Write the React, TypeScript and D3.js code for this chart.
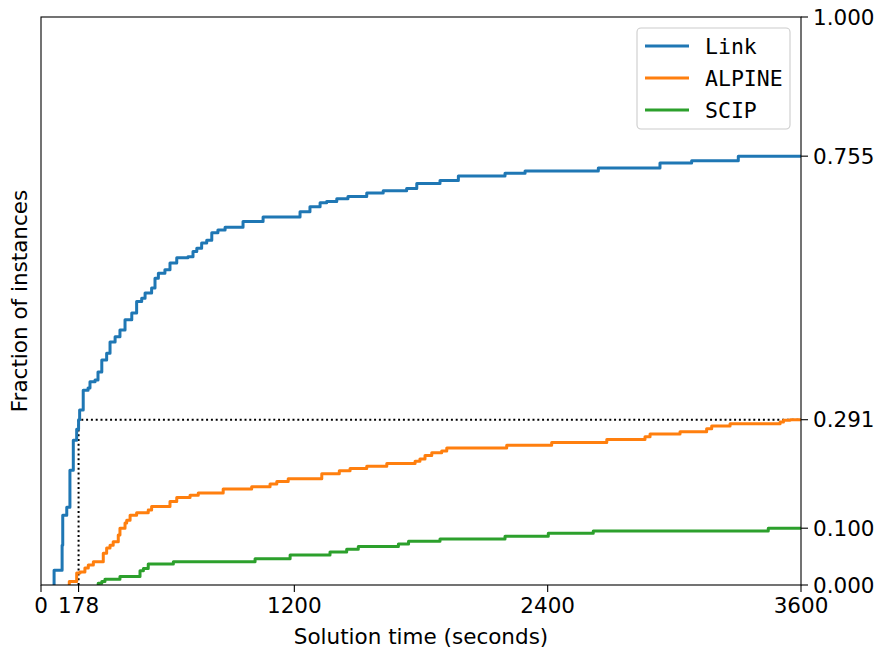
import React from 'react'
import { scaleLinear, line, curveStepAfter } from 'd3'

// [jump time (s), fraction solved after the jump]
const linkSteps: [number, number][] = [
  [62, 0.026], [100, 0.07], [103, 0.123], [122, 0.137], [137, 0.202], [153, 0.255], [169, 0.274], [178, 0.291],
  [183, 0.308], [200, 0.343], [223, 0.347], [232, 0.358], [256, 0.361], [270, 0.375], [288, 0.396], [311, 0.408],
  [327, 0.428], [351, 0.437], [374, 0.449], [398, 0.467], [430, 0.479], [453, 0.499], [477, 0.505],
  [493, 0.514], [524, 0.523], [540, 0.540], [556, 0.549], [587, 0.555], [611, 0.567], [643, 0.576],
  [696, 0.578], [720, 0.587], [738, 0.593], [761, 0.602], [785, 0.607], [809, 0.620], [838, 0.625],
  [872, 0.630], [957, 0.640], [1052, 0.648], [1227, 0.657], [1274, 0.666], [1322, 0.673], [1353, 0.675],
  [1401, 0.680], [1454, 0.684], [1543, 0.690], [1621, 0.694], [1732, 0.698], [1780, 0.707], [1890, 0.712],
  [1977, 0.720], [2198, 0.725], [2293, 0.729], [2640, 0.734], [2932, 0.743], [3082, 0.747], [3303, 0.755],
]

const alpineSteps: [number, number][] = [
  [134, 0.006], [169, 0.021], [185, 0.023], [208, 0.030], [224, 0.035], [248, 0.041], [295, 0.056],
  [311, 0.065], [327, 0.070], [342, 0.076], [366, 0.088], [374, 0.100], [398, 0.109], [406, 0.114],
  [422, 0.123], [453, 0.127], [508, 0.132], [524, 0.138], [611, 0.147], [643, 0.154], [706, 0.158],
  [745, 0.162], [863, 0.169], [998, 0.173], [1085, 0.178], [1117, 0.182], [1171, 0.187], [1330, 0.196],
  [1413, 0.201], [1464, 0.205], [1543, 0.209], [1638, 0.214], [1772, 0.218], [1795, 0.222], [1819, 0.228],
  [1851, 0.233], [1898, 0.236], [1922, 0.241], [2206, 0.246], [2419, 0.251], [2680, 0.256], [2861, 0.261],
  [2885, 0.266], [3027, 0.270], [3153, 0.275], [3177, 0.280], [3264, 0.284], [3501, 0.287], [3517, 0.290],
  [3548, 0.291],
]

const scipSteps: [number, number][] = [
  [271, 0.003], [288, 0.006], [303, 0.010], [374, 0.015], [469, 0.025], [485, 0.029], [508, 0.037],
  [627, 0.041], [1014, 0.046], [1180, 0.053], [1369, 0.058], [1448, 0.063], [1503, 0.068], [1693, 0.072],
  [1741, 0.077], [1890, 0.081], [2198, 0.086], [2403, 0.091], [2616, 0.095], [3445, 0.100],
]

const seriesNames = ['Link', 'ALPINE', 'SCIP']
const seriesColors = ['#1f77b4', '#ff7f0e', '#2ca02c']
const xTicks = [0, 178, 1200, 2400, 3600]
const yTicks = [0, 0.1, 0.291, 0.755, 1]
const markTime = 178
const markFrac = 0.291
const tMax = 3600

const width = 880
const height = 649
const margin = { top: 17, right: 79, bottom: 64, left: 41 }

export default function App() {
  const x = scaleLinear().domain([0, tMax]).range([margin.left, width - margin.right])
  const y = scaleLinear().domain([0, 1]).range([height - margin.bottom, margin.top])

  const stepLine = line<[number, number]>()
    .x(d => x(d[0]))
    .y(d => y(d[1]))
    .curve(curveStepAfter)

  const withEnds = (steps: [number, number][]): [number, number][] => [
    [steps[0][0], 0],
    ...steps,
    [tMax, steps[steps.length - 1][1]],
  ]

  const series = [linkSteps, alpineSteps, scipSteps]
  const font = 'DejaVu Sans, sans-serif'
  const fs = 21.5
  const x0 = margin.left
  const x1 = width - margin.right
  const y0 = height - margin.bottom
  const y1 = margin.top

  return (
    <svg width={width} height={height} style={{ position: 'absolute', left: 0, top: 0, background: '#fff' }}>
      {/* reference dotted lines */}
      <path
        d={`M${x(markTime)},${y(0)}V${y(markFrac)}H${x(tMax)}`}
        fill="none" stroke="#000" strokeWidth={2} strokeDasharray="2,2.8"
      />

      {series.map((s, i) => (
        <path key={seriesNames[i]} d={stepLine(withEnds(s)) ?? ''}
          fill="none" stroke={seriesColors[i]} strokeWidth={3} strokeLinejoin="round" />
      ))}

      {/* frame */}
      <rect x={x0} y={y1} width={x1 - x0} height={y0 - y1} fill="none" stroke="#000" strokeWidth={1.1} />

      {/* x axis */}
      {xTicks.map(t => (
        <g key={t}>
          <line x1={x(t)} x2={x(t)} y1={y0} y2={y0 + 7} stroke="#000" strokeWidth={1.1} />
          <text x={x(t)} y={y0 + 28} textAnchor="middle" fontFamily={font} fontSize={fs}>{t}</text>
        </g>
      ))}
      <text x={(x0 + x1) / 2} y={y0 + 59} textAnchor="middle" fontFamily={font} fontSize={fs}>
        Solution time (seconds)
      </text>

      {/* right y axis */}
      {yTicks.map(v => (
        <g key={v}>
          <line x1={x1} x2={x1 + 7} y1={y(v)} y2={y(v)} stroke="#000" strokeWidth={1.1} />
          <text x={x1 + 12} y={y(v)} dy="0.36em" fontFamily={font} fontSize={fs}>{v.toFixed(3)}</text>
        </g>
      ))}
      <text transform={`translate(${27},${(y0 + y1) / 2}) rotate(-90)`} textAnchor="middle"
        fontFamily={font} fontSize={fs}>
        Fraction of instances
      </text>

      {/* legend */}
      <g>
        <rect x={637} y={28} width={153} height={101} rx={4} fill="#fff" fillOpacity={0.8}
          stroke="#cccccc" strokeWidth={1.1} />
        {seriesNames.map((n, i) => (
          <g key={n} transform={`translate(0,${46 + i * 32})`}>
            <line x1={645} x2={689} y1={0} y2={0} stroke={seriesColors[i]} strokeWidth={3} />
            <text x={705} y={0} dy="0.36em" fontFamily="DejaVu Sans Mono, monospace" fontSize={fs}>{n}</text>
          </g>
        ))}
      </g>
    </svg>
  )
}
